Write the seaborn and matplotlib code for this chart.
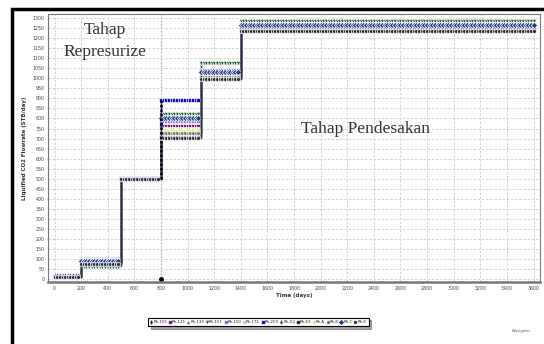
import numpy as np
import pandas as pd
import matplotlib
matplotlib.use('Agg')
import matplotlib.pyplot as plt
import matplotlib.patches as mpatches
import seaborn as sns

# Stage boundaries (days) and flowrate levels
stage_edges = [0, 200, 500, 800, 1100, 1400, 3600]
series_names = ['Rh-105', 'Rh-125', 'Rh-135', 'Rh-151', 'Rh-160', 'Rh-175', 'Rh-200',
                'Rh-D2', 'Rh-E3', 'Rh-A', 'Rh-B', 'Rh-C', 'Rh-X']
levels = {
    'Rh-105': [12, 80, 500, 712, 1000, 1243],
    'Rh-125': [15, 102, 505, 765, 1010, 1265],
    'Rh-135': [12, 70, 500, 825, 1082, 1290],
    'Rh-151': [14, 74, 498, 820, 1078, 1286],
    'Rh-160': [15, 96, 502, 785, 1040, 1270],
    'Rh-175': [13, 86, 500, 750, 1020, 1256],
    'Rh-200': [10, 90, 503, 892, 1025, 1262],
    'Rh-D2': [12, 66, 497, 722, 1005, 1250],
    'Rh-E3': [10, 78, 500, 708, 998, 1240],
    'Rh-A': [12, 88, 500, 745, 1015, 1258],
    'Rh-B': [11, 82, 499, 730, 1008, 1252],
    'Rh-C': [13, 92, 501, 800, 1030, 1266],
    'Rh-X': [10, 76, 500, 705, 996, 1238],
}
series_colors = ['#1f2f4f', '#7a1a7a', '#2e8b3a', '#1e5a2a', '#8a70c8', '#a8d4f0', '#1010c8',
                 '#1f5f5f', '#222222', '#e8e890', '#707070', '#203a8a', '#303040']
markers = ['d', 's', '^', 'v', 's', 'o', 's', 'd', 'o', 'o', 'p', 'D', 'h']

# marker positions along each step (every 20 days)
t_grid = np.arange(0, 3601, 20)
stage_idx = np.clip(np.searchsorted(stage_edges, t_grid, side='right') - 1, 0, 5)

rows = []
for name in series_names:
    for t, s in zip(t_grid, stage_idx):
        rows.append({'Time': t, 'Rate': levels[name][s], 'Case': name})
df = pd.DataFrame(rows)

sns.set_style('white')
plt.rcParams['font.family'] = ['DejaVu Sans']

fig = plt.figure(figsize=(5.44, 3.44), dpi=100)
ax = fig.add_axes([0.088, 0.180, 0.905, 0.779])

palette = dict(zip(series_names, series_colors))
sns.lineplot(data=df, x='Time', y='Rate', hue='Case', style='Case', palette=palette,
             markers=dict(zip(series_names, markers)), dashes=False,
             drawstyle='steps-post', linewidth=1.0, markersize=3.2, markeredgewidth=0.5,
             ax=ax, legend=True)

# injection start marker line
ax.axvline(800, color='#8ab0e0', linestyle=(0, (1, 1.5)), linewidth=1.0, zorder=0)
ax.plot([800, 800], [500, 892], color='black', linestyle=(0, (1, 0.8)), linewidth=1.8)
ax.plot([800], [0], marker='o', color='black', markersize=2.5)

ax.set_xlim(-50, 3650)
ax.set_ylim(-15, 1320)
ax.set_xticks(np.arange(0, 3601, 200))
ax.set_yticks(np.arange(0, 1301, 50))
ax.tick_params(labelsize=3.4, length=1.5, pad=1, colors='#444444')
ax.grid(True, color='#cccccc', linestyle=(0, (3, 2)), linewidth=0.6)
ax.set_xlabel('Time (days)', fontsize=4, labelpad=2, fontweight='bold', color='#333333')
ax.set_ylabel('Liquified CO2 Flowrate (STB/day)', fontsize=4, labelpad=4,
              fontweight='bold', color='#333333')
for sp in ax.spines.values():
    sp.set_color('#777777')
    sp.set_linewidth(0.8)
ax.spines['bottom'].set_linewidth(1.8)

ax.text(0.115, 0.97, 'Tahap', transform=ax.transAxes, ha='center', va='top',
        fontsize=12.5, family='Liberation Serif', color='#333333')
ax.text(0.115, 0.89, 'Represurize', transform=ax.transAxes, ha='center', va='top',
        fontsize=12.5, family='Liberation Serif', color='#333333')
ax.text(0.645, 0.57, 'Tahap Pendesakan', transform=ax.transAxes, ha='center', va='center',
        fontsize=12.5, family='Liberation Serif', color='#333333')

handles, labels = ax.get_legend_handles_labels()
ax.get_legend().remove()
leg = fig.legend(handles, labels, loc='center', bbox_to_anchor=(0.475, 0.064), ncol=13,
                 fontsize=2.8, frameon=True, fancybox=False, shadow=True,
                 handlelength=0.4, handletextpad=0.3, columnspacing=0.5,
                 borderpad=0.6, edgecolor='black')
leg.get_frame().set_linewidth(0.8)

fig.text(0.975, 0.035, 'tNavigator', fontsize=2.5, ha='right', color='#555555')

# outer frame of the screenshot
fig.patches.append(mpatches.Rectangle((0.022, -0.2), 1.1, 1.175, transform=fig.transFigure,
                                      fill=False, edgecolor='black', linewidth=2.5))

fig.savefig('out.png', dpi=100)
